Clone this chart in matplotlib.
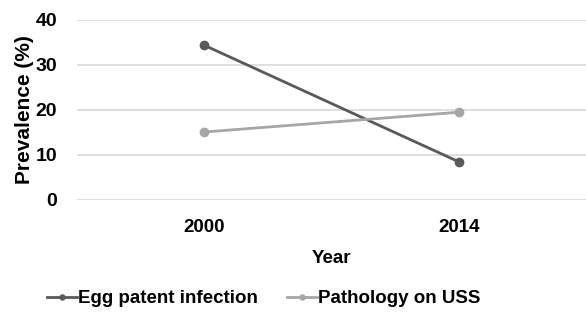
import numpy as np
import matplotlib
matplotlib.use("Agg")
import matplotlib.pyplot as plt

plt.rcParams['font.family'] = ['Liberation Sans', 'DejaVu Sans']
plt.rcParams['font.weight'] = 'bold'

years = ['2000', '2014']
egg_patent = [34.4, 8.5]
pathology_uss = [15.1, 19.5]

fig = plt.figure(figsize=(5.86, 3.12), dpi=100)
ax = fig.add_axes([0.131, 0.359, 0.869, 0.577])

x = np.arange(len(years))
ax.plot(x, egg_patent, color='#595959', lw=2.0, marker='o', ms=6,
        label='Egg patent infection', zorder=3)
ax.plot(x, pathology_uss, color='#a6a6a6', lw=2.0, marker='o', ms=6,
        label='Pathology on USS', zorder=3)

ax.set_xlim(-0.5, 1.5)
ax.set_ylim(0, 40)
ax.set_yticks([0, 10, 20, 30, 40])
ax.set_xticks(x)
ax.set_xticklabels(years)
ax.grid(axis='y', color='#d9d9d9', lw=1.2)
ax.set_axisbelow(True)
for s in ax.spines.values():
    s.set_visible(False)
ax.tick_params(axis='y', length=0, labelsize=14, pad=14)
ax.tick_params(axis='x', length=0, labelsize=13.5, pad=14)
ax.set_xlabel('Year', fontsize=13.5, fontweight='bold', labelpad=10)
ax.set_ylabel('Prevalence (%)', fontsize=15, fontweight='bold', labelpad=1)

fig.legend(*ax.get_legend_handles_labels(), loc='center',
           bbox_to_anchor=(0.45, 0.042), ncol=2, frameon=False,
           fontsize=13.5, handlelength=1.6, handletextpad=0.05,
           columnspacing=1.6, markerscale=0.6, borderaxespad=0)

fig.savefig('out.png', dpi=100)
